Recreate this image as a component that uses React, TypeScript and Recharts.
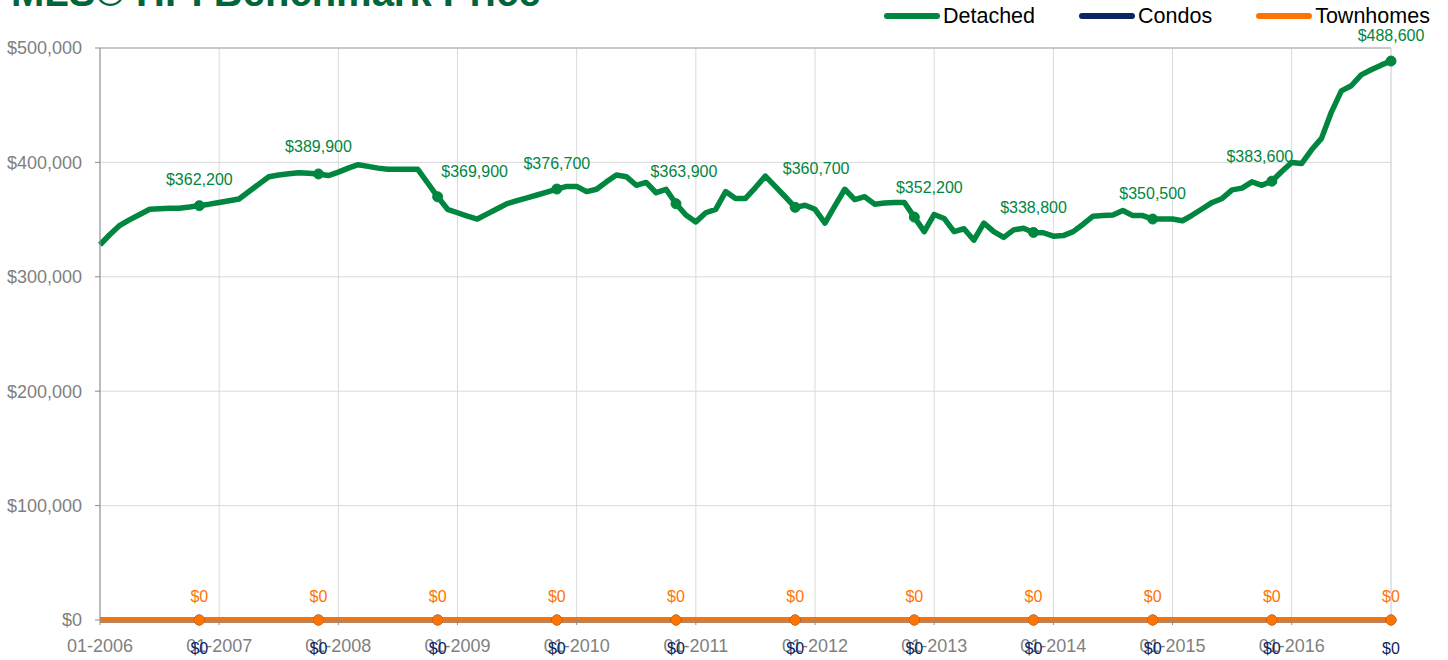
import React from 'react';
import { LineChart, Line, XAxis, YAxis, CartesianGrid, ReferenceLine } from 'recharts';

// ---- data ----
const xTickLabels = ['01-2006', '01-2007', '01-2008', '01-2009', '01-2010', '01-2011', '01-2012', '01-2013', '01-2014', '01-2015', '01-2016'];
const yTicks = [0, 100000, 200000, 300000, 400000, 500000];

// Detached benchmark price, monthly from 01-2006 to 11-2016
const detached = [
  328000, 337000, 345000, 350000, 354500, 359000, 359500, 360000, 360000, 361000, 362200, 363500,
  365000, 366500, 368000, 374500, 381000, 387500, 389000, 390000, 391000, 390500, 389900, 388500,
  391500, 395000, 398000, 396500, 395000, 394000, 394000, 394000, 394000, 382000, 369900, 359000,
  356000, 353000, 350500, 355000, 359500, 364000, 366500, 369000, 371500, 374000, 376700, 379000,
  379000, 374500, 376500, 383000, 389000, 387500, 380000, 382500, 373500, 376500, 363900, 354000,
  348000, 356000, 359000, 374500, 368500, 368500, 378000, 388000, 379000, 370000, 360700, 362500,
  359000, 347000, 362000, 376500, 367500, 370000, 363500, 364500, 365000, 365000, 352200, 339500,
  354500, 351000, 339500, 342000, 332000, 347000, 339500, 334500, 341000, 342500, 338800, 338500,
  335500, 336000, 339500, 346000, 353000, 353500, 354000, 358000, 353500, 353500, 350500, 350500,
  350500, 349000, 354000, 359500, 365000, 368500, 376000, 377500, 383000, 380000, 383600, 392000,
  400000, 399000, 411000, 421000, 444000, 462500, 467000, 476500, 481000, 485000, 488600,
];

// months (index from 01-2006) carrying a marker and data label
const markerMonths = [10, 22, 34, 46, 58, 70, 82, 94, 106, 118, 130];
// months where Condos / Townhomes have values
const sparseMonths = [0, 10, 22, 34, 46, 58, 70, 82, 94, 106, 118, 130];
const condos = [0, 0, 0, 0, 0, 0, 0, 0, 0, 0, 0, 0];
const townhomes = [0, 0, 0, 0, 0, 0, 0, 0, 0, 0, 0, 0];

// ---- styles ----
const GREEN = '#00863F';
const NAVY = '#0B2463';
const ORANGE = '#FF7300';
const TITLE_GREEN = '#00663A';
const AXIS_GRAY = '#7f7f7f';
const FONT = '"Liberation Sans", Arial, Helvetica, sans-serif';
// label centre offsets relative to the detached markers (Excel nudged labels)
const detachedLabelOffsets: [number, number][] = [
  [0, -26], [0, -27], [37, -25], [0, -26], [8, -32], [21, -39], [15, -30], [0, -25], [0, -26], [-12, -25], [0, -26],
];

const rows = detached.map((v, i) => {
  const k = sparseMonths.indexOf(i);
  return {
    m: i,
    detached: v,
    condos: k >= 0 ? condos[k] : null,
    townhomes: k >= 0 ? townhomes[k] : null,
  };
});

const fmt = (v: number) => `$${Number(v).toLocaleString('en-US')}`;

const makeDot = (color: string, name: string) => (props: any) => {
  const { cx, cy, index } = props;
  const m = rows[index]?.m;
  if (cx == null || cy == null || !markerMonths.includes(m)) return <g key={`${name}-d-${index}`} />;
  return <circle key={`${name}-d-${index}`} cx={cx} cy={cy} r={5} fill={color} stroke={color} strokeWidth={1} />;
};

const makeLabel = (color: string, name: string, offsets: (k: number) => [number, number]) => (props: any) => {
  const { x, y, index, value } = props;
  const m = rows[index]?.m;
  const k = markerMonths.indexOf(m);
  if (x == null || y == null || k < 0 || value == null) return <g key={`${name}-l-${index}`} />;
  const [dx, dy] = offsets(k);
  return (
    <text
      key={`${name}-l-${index}`}
      x={x + dx}
      y={y + dy}
      textAnchor="middle"
      dominantBaseline="central"
      fill={color}
      fontSize={16}
      fontFamily={FONT}
    >
      {fmt(value)}
    </text>
  );
};

const series = [
  { key: 'detached', name: 'Detached', color: GREEN },
  { key: 'condos', name: 'Condos', color: NAVY },
  { key: 'townhomes', name: 'Townhomes', color: ORANGE },
];

export default function App() {
  return (
    <div style={{ position: 'absolute', left: 0, top: 0, width: 1448, height: 660, fontFamily: FONT, background: '#fff', overflow: 'hidden' }}>
      <svg width={1448} height={60} style={{ position: 'absolute', left: 0, top: 0 }}>
        <text x={11} y={5.5} fontSize={40} fontWeight="bold" fill={TITLE_GREEN} fontFamily={FONT}>
          MLS® HPI Benchmark Price
        </text>
      </svg>
      <div style={{ position: 'absolute', left: 884, top: 0, height: 32, display: 'flex', alignItems: 'center' }}>
        {series.map((s, i) => (
          <div key={s.key} style={{ display: 'flex', alignItems: 'center', marginRight: i < series.length - 1 ? 44 : 0 }}>
            <div style={{ width: 56, height: 6, borderRadius: 3, background: s.color, marginRight: 3 }} />
            <span style={{ fontSize: 21.5, color: '#000', lineHeight: '32px' }}>{s.name}</span>
          </div>
        ))}
      </div>
      <div style={{ position: 'absolute', left: 0, top: 0 }}>
        <LineChart width={1448} height={660} data={rows} margin={{ top: 48, right: 57, bottom: 10, left: 0 }}>
          <CartesianGrid stroke="#d9d9d9" strokeWidth={1} verticalValues={[0, 12, 24, 36, 48, 60, 72, 84, 96, 108, 120]} />
          <ReferenceLine y={500000} stroke="#a6a6a6" strokeWidth={1} />
          <ReferenceLine x={130} stroke="#c8c8c8" strokeWidth={1} />
          <XAxis
            dataKey="m"
            type="number"
            domain={[0, 130]}
            ticks={[0, 12, 24, 36, 48, 60, 72, 84, 96, 108, 120]}
            interval={0}
            tickFormatter={(m: number) => xTickLabels[Math.round(m / 12)]}
            height={30}
            tickSize={5}
            tickMargin={14}
            tick={{ fill: AXIS_GRAY, fontSize: 18 }}
            axisLine={{ stroke: '#8c8c8c' }}
            tickLine={{ stroke: '#8c8c8c' }}
          />
          <YAxis
            width={100}
            domain={[0, 500000]}
            ticks={yTicks}
            interval={0}
            tickFormatter={(v: number) => fmt(v)}
            tickSize={5}
            tickMargin={13}
            tick={{ fill: AXIS_GRAY, fontSize: 18 }}
            axisLine={{ stroke: '#8c8c8c' }}
            tickLine={{ stroke: '#8c8c8c' }}
          />
          <Line
            type="linear"
            dataKey="detached"
            name="Detached"
            stroke={GREEN}
            strokeWidth={5.5}
            strokeLinejoin="round"
            dot={makeDot(GREEN, 'det')}
            activeDot={false}
            label={makeLabel(GREEN, 'det', (k) => detachedLabelOffsets[k])}
            isAnimationActive={false}
          />
          <Line
            type="linear"
            dataKey="condos"
            name="Condos"
            stroke={NAVY}
            strokeWidth={5}
            connectNulls
            dot={makeDot(NAVY, 'con')}
            activeDot={false}
            label={makeLabel(NAVY, 'con', () => [0, 28])}
            isAnimationActive={false}
          />
          <Line
            type="linear"
            dataKey="townhomes"
            name="Townhomes"
            stroke={ORANGE}
            strokeWidth={5}
            connectNulls
            dot={makeDot(ORANGE, 'tow')}
            activeDot={false}
            label={makeLabel(ORANGE, 'tow', () => [0, -24])}
            isAnimationActive={false}
          />
        </LineChart>
      </div>
    </div>
  );
}
